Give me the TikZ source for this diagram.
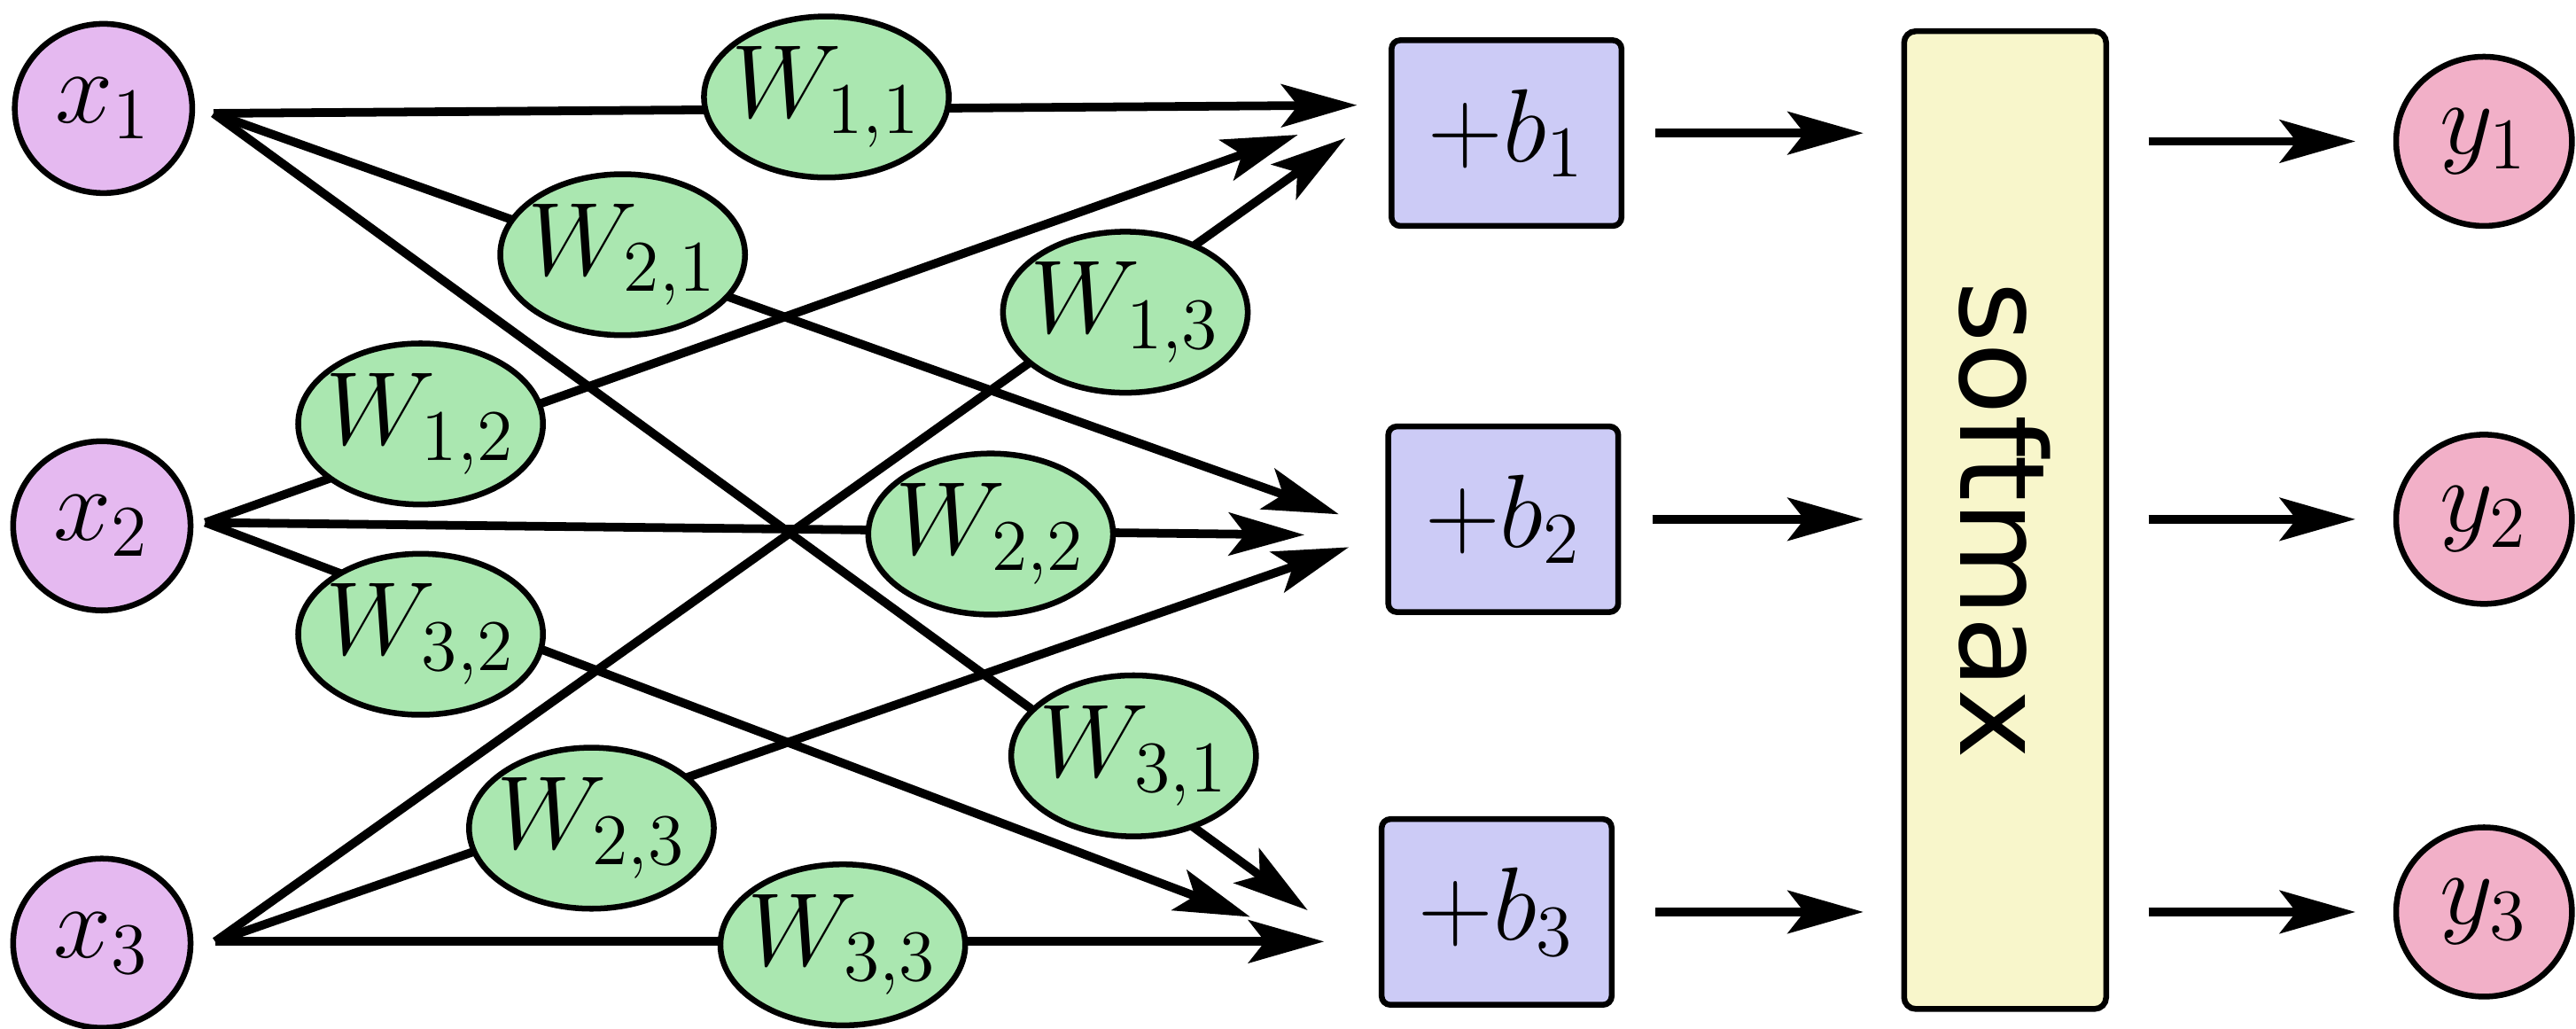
\RequirePackage{fix-cm}
\documentclass[tikz,border=0pt]{standalone}
\usepackage{amsmath}
\usepackage{fontspec}
\usepackage{xcolor}
\usepackage{tikz}
\usetikzlibrary{shapes.geometric,arrows.meta}
\newfontfamily\smfont{DejaVu Sans}
\definecolor{inpurple}{RGB}{229,185,240}
\definecolor{wgreen}{RGB}{170,231,176}
\definecolor{biasblue}{RGB}{204,203,246}
\definecolor{smyellow}{RGB}{248,246,203}
\definecolor{outpink}{RGB}{242,176,200}
\tikzset{
    bigmath/.style={font=\fontsize{18}{22}\selectfont},
    innode/.style={ellipse,draw,line width=1pt,fill=inpurple,minimum width=1.08cm,minimum height=1.03cm,inner sep=0pt,bigmath},
    wnode/.style={ellipse,draw,line width=1pt,fill=wgreen,minimum width=1.49cm,minimum height=0.98cm,inner sep=0pt,bigmath},
    biasnode/.style={rectangle,rounded corners=1.5pt,draw,line width=1pt,fill=biasblue,minimum width=1.40cm,minimum height=1.13cm,bigmath},
    smbox/.style={rectangle,rounded corners=2pt,draw,line width=1pt,fill=smyellow,minimum width=1.23cm,minimum height=5.95cm,font=\smfont\fontsize{20.5}{24}\selectfont},
    outnode/.style={ellipse,draw,line width=1pt,fill=outpink,minimum width=1.07cm,minimum height=1.03cm,inner sep=0pt,bigmath},
    arr/.style={-{Stealth[length=0.46cm,width=0.26cm,inset=0.1cm]},line width=1.5pt}
}
\newcommand{\wlab}[2]{\makebox[0pt]{$W_{#1,#2}$}}

\begin{document}
\begin{tikzpicture}
    \useasboundingbox (0,0) rectangle (15.68,-6.26);

    % Inputs
    \node[innode] (x1) at (0.63,-0.66) {$x_1$};
    \node[innode] (x2) at (0.62,-3.20) {$x_2$};
    \node[innode] (x3) at (0.62,-5.74) {$x_3$};
    \coordinate (s1) at (1.30,-0.69);
    \coordinate (s2) at (1.25,-3.18);
    \coordinate (s3) at (1.31,-5.73);

    % Arrow tips in front of the bias boxes
    \coordinate (t11) at (8.26,-0.64);
    \coordinate (t12) at (7.90,-0.82);
    \coordinate (t13) at (8.19,-0.84);
    \coordinate (t21) at (8.15,-3.13);
    \coordinate (t22) at (7.94,-3.255);
    \coordinate (t23) at (8.21,-3.33);
    \coordinate (t31) at (7.96,-5.54);
    \coordinate (t32) at (7.61,-5.58);
    \coordinate (t33) at (8.06,-5.73);

    % Weighted connections
    \draw[arr] (s1) -- (t11);
    \draw[arr] (s1) -- (t21);
    \draw[arr] (s1) -- (t31);
    \draw[arr] (s2) -- (t12);
    \draw[arr] (s2) -- (t22);
    \draw[arr] (s2) -- (t32);
    \draw[arr] (s3) -- (t13);
    \draw[arr] (s3) -- (t23);
    \draw[arr] (s3) -- (t33);

    % Weights
    \node[wnode] (w11) at (5.03,-0.59) {\wlab{1}{1}};
    \node[wnode] (w21) at (3.79,-1.55) {\wlab{2}{1}};
    \node[wnode] (w31) at (6.90,-4.60) {\wlab{3}{1}};
    \node[wnode] (w12) at (2.56,-2.58) {\wlab{1}{2}};
    \node[wnode] (w22) at (6.03,-3.25) {\wlab{2}{2}};
    \node[wnode] (w32) at (2.56,-3.86) {\wlab{3}{2}};
    \node[wnode] (w13) at (6.85,-1.90) {\wlab{1}{3}};
    \node[wnode] (w23) at (3.60,-5.04) {\wlab{2}{3}};
    \node[wnode] (w33) at (5.13,-5.75) {\wlab{3}{3}};

    % Biases
    \node[biasnode] (b1) at (9.17,-0.81) {$+b_1$};
    \node[biasnode] (b2) at (9.15,-3.16) {$+b_2$};
    \node[biasnode] (b3) at (9.11,-5.55) {$+b_3$};

    % Softmax
    \node[smbox] (soft) at (12.205,-3.165) {\rotatebox{-90}{softmax}};

    % Outputs
    \node[outnode] (y1) at (15.12,-0.86) {$y_1$};
    \node[outnode] (y2) at (15.12,-3.16) {$y_2$};
    \node[outnode] (y3) at (15.12,-5.55) {$y_3$};

    \draw[arr,shorten <=0.19cm,shorten >=0.23cm] (b1.east) -- (b1.east -| soft.west);
    \draw[arr,shorten <=0.19cm,shorten >=0.23cm] (b2.east) -- (b2.east -| soft.west);
    \draw[arr,shorten <=0.25cm,shorten >=0.23cm] (b3.east) -- (b3.east -| soft.west);

    \draw[arr,shorten <=0.24cm,shorten >=0.23cm] (soft.east |- y1.west) -- (y1.west);
    \draw[arr,shorten <=0.24cm,shorten >=0.23cm] (soft.east |- y2.west) -- (y2.west);
    \draw[arr,shorten <=0.24cm,shorten >=0.23cm] (soft.east |- y3.west) -- (y3.west);
\end{tikzpicture}
\end{document}
